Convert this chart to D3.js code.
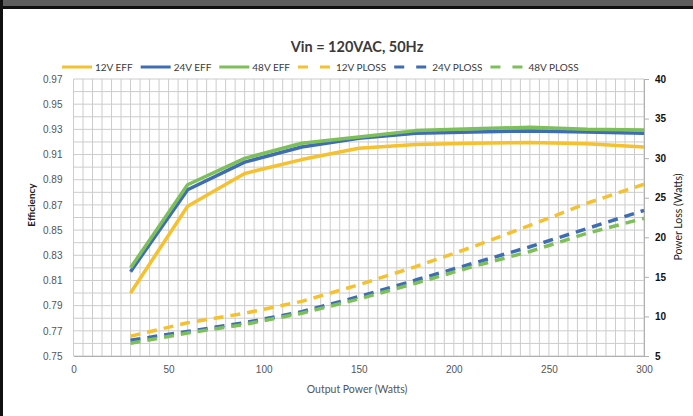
<!DOCTYPE html>
<html>
<head>
<meta charset="utf-8">
<script src="https://cdn.jsdelivr.net/npm/d3@7"></script>
<style>
  html, body { margin: 0; padding: 0; background: #fff; }
  svg { display: block; font-family: Lato, "Open Sans", sans-serif; }
</style>
</head>
<body>
<svg id="chart" width="693" height="416"></svg>
<script>
// output power points (W)
const outputPower = [30, 60, 90, 120, 150, 180, 210, 240, 270, 300];

// efficiency per output voltage
const eff12 = [0.800, 0.869, 0.895, 0.906, 0.915, 0.918, 0.919, 0.9195, 0.9185, 0.916];
const eff24 = [0.817, 0.882, 0.904, 0.916, 0.923, 0.927, 0.928, 0.9287, 0.928, 0.927];
const eff48 = [0.820, 0.886, 0.907, 0.919, 0.924, 0.929, 0.9305, 0.9316, 0.930, 0.9295];

// power loss (W)
const ploss12 = [7.5, 9.2, 10.4, 11.9, 14.0, 16.3, 18.8, 21.5, 24.3, 26.7];
const ploss24 = [7.0, 8.1, 9.2, 10.6, 12.5, 14.6, 16.7, 18.8, 21.1, 23.4];
const ploss48 = [6.6, 7.9, 9.0, 10.4, 12.2, 14.2, 16.3, 18.2, 20.5, 22.4];

const xTicks = [0, 50, 100, 150, 200, 250, 300];
const effTicks = [0.75, 0.77, 0.79, 0.81, 0.83, 0.85, 0.87, 0.89, 0.91, 0.93, 0.95, 0.97];
const lossTicks = [5, 10, 15, 20, 25, 30, 35, 40];

const series = [
    { name: '12V EFF', values: eff12, axis: 'eff', color: '#f5c12e', dash: null },
    { name: '24V EFF', values: eff24, axis: 'eff', color: '#3f6db4', dash: null },
    { name: '48V EFF', values: eff48, axis: 'eff', color: '#7dbf58', dash: null },
    { name: '12V PLOSS', values: ploss12, axis: 'loss', color: '#f5c12e', dash: '10,7' },
    { name: '24V PLOSS', values: ploss24, axis: 'loss', color: '#3f6db4', dash: '10,7' },
    { name: '48V PLOSS', values: ploss48, axis: 'loss', color: '#7dbf58', dash: '10,7' }
];

const svg = d3.select('#chart');

// cadre de la capture
svg.append('rect').attr('x', 0).attr('y', 0).attr('width', 693).attr('height', 6).attr('fill', '#5e5e5e');
svg.append('rect').attr('x', 0).attr('y', 6).attr('width', 693).attr('height', 3).attr('fill', '#111');
svg.append('rect').attr('x', 0).attr('y', 0).attr('width', 3).attr('height', 416).attr('fill', '#111');

const plot = { left: 73.5, right: 644, top: 79, bottom: 356 };

const x = d3.scaleLinear().domain([0, 300]).range([plot.left, plot.right]);
const yEff = d3.scaleLinear().domain([0.75, 0.97]).range([plot.bottom, plot.top]);
const yLoss = d3.scaleLinear().domain([5, 40]).range([plot.bottom, plot.top]);

// grille
const grid = svg.append('g').attr('class', 'grid');
grid.selectAll('line.v')
    .data(d3.range(0, 301, 5))
    .enter().append('line')
    .attr('x1', d => x(d)).attr('x2', d => x(d))
    .attr('y1', plot.top).attr('y2', plot.bottom)
    .attr('stroke', '#cccccc').attr('stroke-width', 1);
grid.selectAll('line.h')
    .data(d3.range(0, 23).map(i => 0.75 + i * 0.01))
    .enter().append('line')
    .attr('x1', plot.left).attr('x2', plot.right)
    .attr('y1', d => yEff(d)).attr('y2', d => yEff(d))
    .attr('stroke', '#cccccc').attr('stroke-width', 1);

// axes
const xAxis = svg.append('g')
    .attr('transform', `translate(0,${plot.bottom})`)
    .call(d3.axisBottom(x).tickValues(xTicks).tickSize(0).tickPadding(10));
xAxis.select('.domain').attr('stroke', '#b0b0b0');
xAxis.selectAll('text').attr('fill', '#555').style('font-size', '10px');

const yAxisL = svg.append('g')
    .attr('transform', `translate(${plot.left},0)`)
    .call(d3.axisLeft(yEff).tickValues(effTicks).tickFormat(d3.format('.2f')).tickSize(0).tickPadding(11));
yAxisL.select('.domain').remove();
yAxisL.selectAll('text').attr('fill', '#555').style('font-size', '10px');

const yAxisR = svg.append('g')
    .attr('transform', `translate(${plot.right},0)`)
    .call(d3.axisRight(yLoss).tickValues(lossTicks).tickSize(5).tickPadding(6));
yAxisR.select('.domain').attr('stroke', '#b0b0b0');
yAxisR.selectAll('.tick line').attr('stroke', '#b0b0b0');
yAxisR.selectAll('text').attr('fill', '#111').style('font-size', '10px').style('font-weight', 'bold');

// lignes
const lineFor = s => d3.line()
    .x((d, i) => x(outputPower[i]))
    .y(d => s.axis === 'eff' ? yEff(d) : yLoss(d));

svg.append('g').selectAll('path')
    .data(series)
    .enter().append('path')
    .attr('d', s => lineFor(s)(s.values))
    .attr('fill', 'none')
    .attr('stroke', s => s.color)
    .attr('stroke-width', 3.5)
    .attr('stroke-dasharray', s => s.dash)
    .attr('stroke-linejoin', 'round');

// titre
svg.append('text')
    .attr('x', 357).attr('y', 52)
    .attr('text-anchor', 'middle')
    .attr('fill', '#3a3a3a')
    .style('font-size', '14.5px')
    .style('font-weight', 'bold')
    .text('Vin = 120VAC, 50Hz');

// légende
const legend = svg.append('g').attr('transform', 'translate(62,67)');
let lx = 0;
series.forEach(s => {
    const lineLen = s.dash ? 35 : 30;
    const item = legend.append('g').attr('transform', `translate(${lx},0)`);
    item.append('line')
        .attr('x1', 0).attr('x2', lineLen)
        .attr('y1', 0).attr('y2', 0)
        .attr('stroke', s.color).attr('stroke-width', 3)
        .attr('stroke-dasharray', s.dash ? '10,12' : null);
    const t = item.append('text')
        .attr('x', lineLen + 3).attr('y', 3.5)
        .attr('fill', '#3a3a3a')
        .style('font-size', '10px')
        .text(s.name);
    lx += lineLen + 3 + t.node().getComputedTextLength() + 8;
});

// titres des axes
svg.append('text')
    .attr('transform', 'translate(35,205) rotate(-90)')
    .attr('text-anchor', 'middle')
    .attr('fill', '#222')
    .style('font-size', '10px').style('font-weight', 'bold')
    .text('Efficiency');

svg.append('text')
    .attr('transform', 'translate(682,217) rotate(-90)')
    .attr('text-anchor', 'middle')
    .attr('fill', '#222')
    .style('font-size', '10.5px')
    .text('Power Loss (Watts)');

svg.append('text')
    .attr('x', 357).attr('y', 393)
    .attr('text-anchor', 'middle')
    .attr('fill', '#555')
    .style('font-size', '10.5px')
    .text('Output Power (Watts)');
</script>
</body>
</html>
